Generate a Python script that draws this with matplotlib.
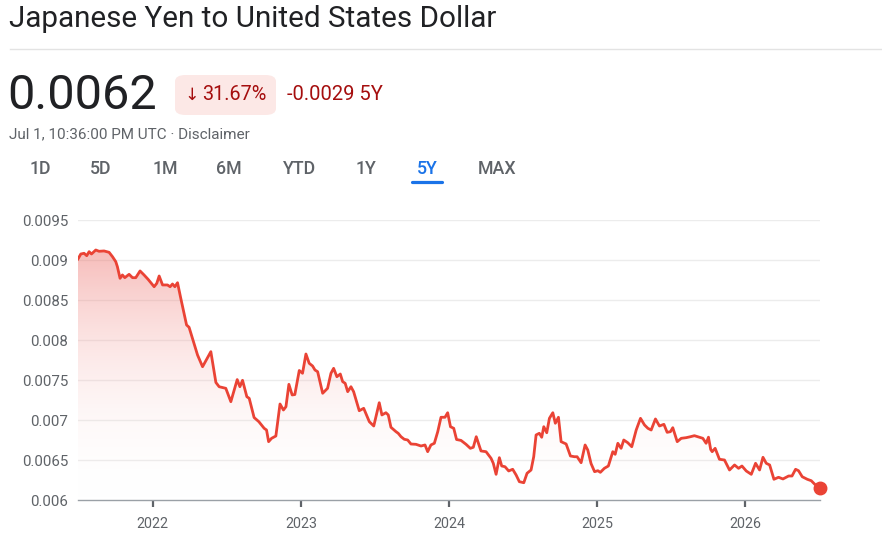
import matplotlib
matplotlib.use("Agg")
import matplotlib.pyplot as plt
import numpy as np
from matplotlib.patches import FancyBboxPatch, Polygon
from matplotlib.colors import LinearSegmentedColormap

# ---- data (decimal year, JPY->USD rate) ----
years = [2021.495, 2021.514, 2021.536, 2021.554, 2021.570, 2021.586, 2021.615, 2021.637, 2021.671, 2021.705,
         2021.728, 2021.750, 2021.761, 2021.779, 2021.795, 2021.811, 2021.840, 2021.863, 2021.885, 2021.914,
         2021.941, 2021.968, 2022.009, 2022.027, 2022.043, 2022.066, 2022.099, 2022.117, 2022.133, 2022.149,
         2022.167, 2022.189, 2022.211, 2022.228, 2022.245, 2022.268, 2022.302, 2022.336, 2022.392, 2022.426,
         2022.448, 2022.493, 2022.527, 2022.570, 2022.588, 2022.606, 2022.635, 2022.651, 2022.684, 2022.716,
         2022.752, 2022.768, 2022.782, 2022.802, 2022.831, 2022.859, 2022.882, 2022.899, 2022.919, 2022.941,
         2022.959, 2022.989, 2023.011, 2023.034, 2023.056, 2023.079, 2023.095, 2023.113, 2023.147, 2023.180,
         2023.203, 2023.221, 2023.243, 2023.266, 2023.282, 2023.299, 2023.316, 2023.338, 2023.356, 2023.394,
         2023.424, 2023.462, 2023.492, 2023.529, 2023.547, 2023.574, 2023.590, 2023.608, 2023.642, 2023.657,
         2023.676, 2023.698, 2023.721, 2023.743, 2023.777, 2023.811, 2023.838, 2023.856, 2023.878, 2023.901,
         2023.924, 2023.946, 2023.973, 2023.991, 2024.010, 2024.032, 2024.051, 2024.081, 2024.115, 2024.144,
         2024.164, 2024.184, 2024.216, 2024.250, 2024.284, 2024.299, 2024.318, 2024.340, 2024.356, 2024.378,
         2024.403, 2024.430, 2024.453, 2024.475, 2024.505, 2024.527, 2024.554, 2024.572, 2024.588, 2024.610,
         2024.626, 2024.640, 2024.660, 2024.678, 2024.701, 2024.718, 2024.739, 2024.757, 2024.791, 2024.820,
         2024.847, 2024.865, 2024.892, 2024.919, 2024.937, 2024.959, 2024.983, 2025.005, 2025.022, 2025.049,
         2025.076, 2025.106, 2025.122, 2025.140, 2025.162, 2025.180, 2025.207, 2025.234, 2025.264, 2025.293,
         2025.320, 2025.343, 2025.365, 2025.394, 2025.421, 2025.451, 2025.473, 2025.495, 2025.511, 2025.541,
         2025.568, 2025.601, 2025.630, 2025.657, 2025.680, 2025.714, 2025.736, 2025.752, 2025.767, 2025.777,
         2025.797, 2025.826, 2025.860, 2025.894, 2025.928, 2025.955, 2025.978, 2026.007, 2026.041, 2026.070,
         2026.097, 2026.120, 2026.142, 2026.165, 2026.194, 2026.225, 2026.255, 2026.293, 2026.316, 2026.340,
         2026.360, 2026.385, 2026.419, 2026.446, 2026.470, 2026.505]
rates = [0.009013, 0.009075, 0.009084, 0.009054, 0.009104, 0.009075, 0.009125, 0.009109, 0.009113, 0.009096,
         0.009041, 0.008979, 0.008916, 0.008771, 0.008813, 0.008779, 0.008821, 0.008779, 0.008779, 0.008863,
         0.008813, 0.008759, 0.008666, 0.008709, 0.008800, 0.008688, 0.008688, 0.008666, 0.008700, 0.008666,
         0.008716, 0.008521, 0.008334, 0.008188, 0.008159, 0.008021, 0.007813, 0.007666, 0.007854, 0.007469,
         0.007416, 0.007396, 0.007229, 0.007505, 0.007416, 0.007496, 0.007291, 0.007271, 0.007031, 0.006979,
         0.006896, 0.006875, 0.006729, 0.006771, 0.006800, 0.007200, 0.007125, 0.007166, 0.007446, 0.007313,
         0.007318, 0.007619, 0.007584, 0.007825, 0.007709, 0.007675, 0.007625, 0.007604, 0.007334, 0.007396,
         0.007584, 0.007646, 0.007541, 0.007575, 0.007479, 0.007459, 0.007354, 0.007416, 0.007354, 0.007116,
         0.007146, 0.006979, 0.006925, 0.007216, 0.007063, 0.007091, 0.007063, 0.006909, 0.006854, 0.006834,
         0.006791, 0.006759, 0.006750, 0.006700, 0.006696, 0.006675, 0.006688, 0.006604, 0.006688, 0.006709,
         0.006854, 0.007034, 0.007034, 0.007091, 0.006916, 0.006896, 0.006756, 0.006745, 0.006696, 0.006646,
         0.006659, 0.006791, 0.006613, 0.006604, 0.006521, 0.006459, 0.006321, 0.006529, 0.006425, 0.006416,
         0.006363, 0.006384, 0.006313, 0.006229, 0.006216, 0.006334, 0.006375, 0.006541, 0.006813, 0.006834,
         0.006784, 0.006916, 0.006841, 0.007021, 0.007091, 0.006959, 0.007034, 0.006729, 0.006700, 0.006550,
         0.006541, 0.006541, 0.006466, 0.006688, 0.006625, 0.006456, 0.006354, 0.006366, 0.006346, 0.006396,
         0.006425, 0.006604, 0.006571, 0.006709, 0.006646, 0.006750, 0.006716, 0.006666, 0.006875, 0.007021,
         0.006938, 0.006896, 0.006875, 0.007013, 0.006925, 0.006946, 0.006846, 0.006854, 0.006904, 0.006729,
         0.006771, 0.006779, 0.006791, 0.006804, 0.006791, 0.006771, 0.006709, 0.006785, 0.006631, 0.006604,
         0.006646, 0.006509, 0.006500, 0.006375, 0.006438, 0.006396, 0.006425, 0.006363, 0.006321, 0.006459,
         0.006375, 0.006534, 0.006459, 0.006438, 0.006259, 0.006284, 0.006263, 0.006300, 0.006300, 0.006384,
         0.006366, 0.006291, 0.006259, 0.006241, 0.006196, 0.006150]

y_ticks = [0.006, 0.0065, 0.007, 0.0075, 0.008, 0.0085, 0.009, 0.0095]
y_labels = ["0.006", "0.0065", "0.007", "0.0075", "0.008", "0.0085", "0.009", "0.0095"]
x_ticks = [2022, 2023, 2024, 2025, 2026]
x_labels = ["2022", "2023", "2024", "2025", "2026"]
tabs = ["1D", "5D", "1M", "6M", "YTD", "1Y", "5Y", "MAX"]
active_tab = "5Y"

title = "Japanese Yen to United States Dollar"
price = "0.0062"
pct_change = "31.67%"
abs_change = "-0.0029 5Y"
timestamp = "Jul 1, 10:36:00 PM UTC · Disclaimer"

# ---- style ----
FONT = ["Roboto", "DejaVu Sans"]
plt.rcParams["font.family"] = FONT
RED = "#ea4335"
DARKRED = "#a50e0e"
GRAY = "#5f6368"
BLUE = "#1a73e8"

W, H = 882, 544
fig = plt.figure(figsize=(W / 100, H / 100), dpi=100)
fig.patch.set_facecolor("white")

def fx(px):
    return px / W

def fy(py):
    return 1 - py / H

# header
fig.text(fx(9), fy(19), title, fontsize=21.3, color="#202124", va="center", ha="left")
fig.add_artist(plt.Line2D([fx(10), 1.0], [fy(49), fy(49)], color="#e3e3e3", lw=1))
fig.text(fx(7), fy(96), price, fontsize=35, color="#202124", va="center", ha="left")
badge = FancyBboxPatch((fx(175), fy(115)), fx(276) - fx(175), fy(75) - fy(115),
                       boxstyle="round,pad=0,rounding_size=0.012", transform=fig.transFigure,
                       facecolor="#fce8e6", edgecolor="none")
fig.add_artist(badge)
fig.text(fx(184), fy(95), "↓", fontsize=12.5, color=DARKRED, va="center", ha="left",
         family=["DejaVu Sans"])
fig.text(fx(202), fy(95), pct_change, fontsize=14.3, color=DARKRED, va="center", ha="left")
fig.text(fx(287), fy(95), abs_change, fontsize=14.5, color=DARKRED, va="center", ha="left")
fig.text(fx(9), fy(134), timestamp, fontsize=11, color=GRAY, va="center", ha="left")

tab_x = [40, 101, 165, 229, 300, 366, 427, 497]
for name, cx in zip(tabs, tab_x):
    col = BLUE if name == active_tab else GRAY
    fig.text(fx(cx), fy(169), name, fontsize=12.8, color=col, va="center", ha="center",
             fontweight="medium")
    if name == active_tab:
        fig.add_artist(plt.Line2D([fx(412), fx(442)], [fy(182), fy(182)], color=BLUE, lw=2.3,
                                  solid_capstyle="round"))

# chart
ax = fig.add_axes([fx(78), fy(500), fx(820) - fx(78), fy(220) - fy(500)])
ax.set_xlim(2021.495, 2026.505)
ax.set_ylim(0.006, 0.0095)

x = np.array(years)
y = np.array(rates)

# gradient fill under line
grad = np.linspace(0, 1, 256).reshape(-1, 1)
cmap = LinearSegmentedColormap.from_list("g", [(1, 1, 1, 0.0), (0.93, 0.42, 0.40, 0.45)])
img = ax.imshow(grad, extent=[x[0], x[-1], 0.006, y.max()], origin="lower", aspect="auto",
                cmap=cmap, zorder=1, interpolation="bicubic")
verts = np.column_stack([np.r_[x, x[-1], x[0]], np.r_[y, 0.006, 0.006]])
poly = Polygon(verts, closed=True, facecolor="none", edgecolor="none", transform=ax.transData)
ax.add_patch(poly)
img.set_clip_path(poly)

ax.plot(x, y, color=RED, lw=2.0, zorder=3, solid_joinstyle="round")
ax.plot([x[-1]], [y[-1]], "o", color=RED, ms=9, zorder=4, clip_on=False)

ax.set_yticks(y_ticks)
ax.set_yticklabels(y_labels)
ax.set_xticks(x_ticks)
ax.set_xticklabels(x_labels)
for yt in y_ticks[1:]:
    ax.axhline(yt, color="#ececec", lw=1, zorder=0)
for s in ["top", "right", "left"]:
    ax.spines[s].set_visible(False)
ax.spines["bottom"].set_color("#9aa0a6")
ax.spines["bottom"].set_linewidth(1)
ax.tick_params(axis="y", length=0, pad=7, labelsize=10.8, labelcolor=GRAY)
ax.tick_params(axis="x", length=5, width=1.6, color=GRAY, pad=7, labelsize=10.3, labelcolor=GRAY)
for lbl in ax.get_yticklabels() + ax.get_xticklabels():
    lbl.set_fontfamily(FONT)

fig.savefig("out.png", dpi=100, facecolor="white")
